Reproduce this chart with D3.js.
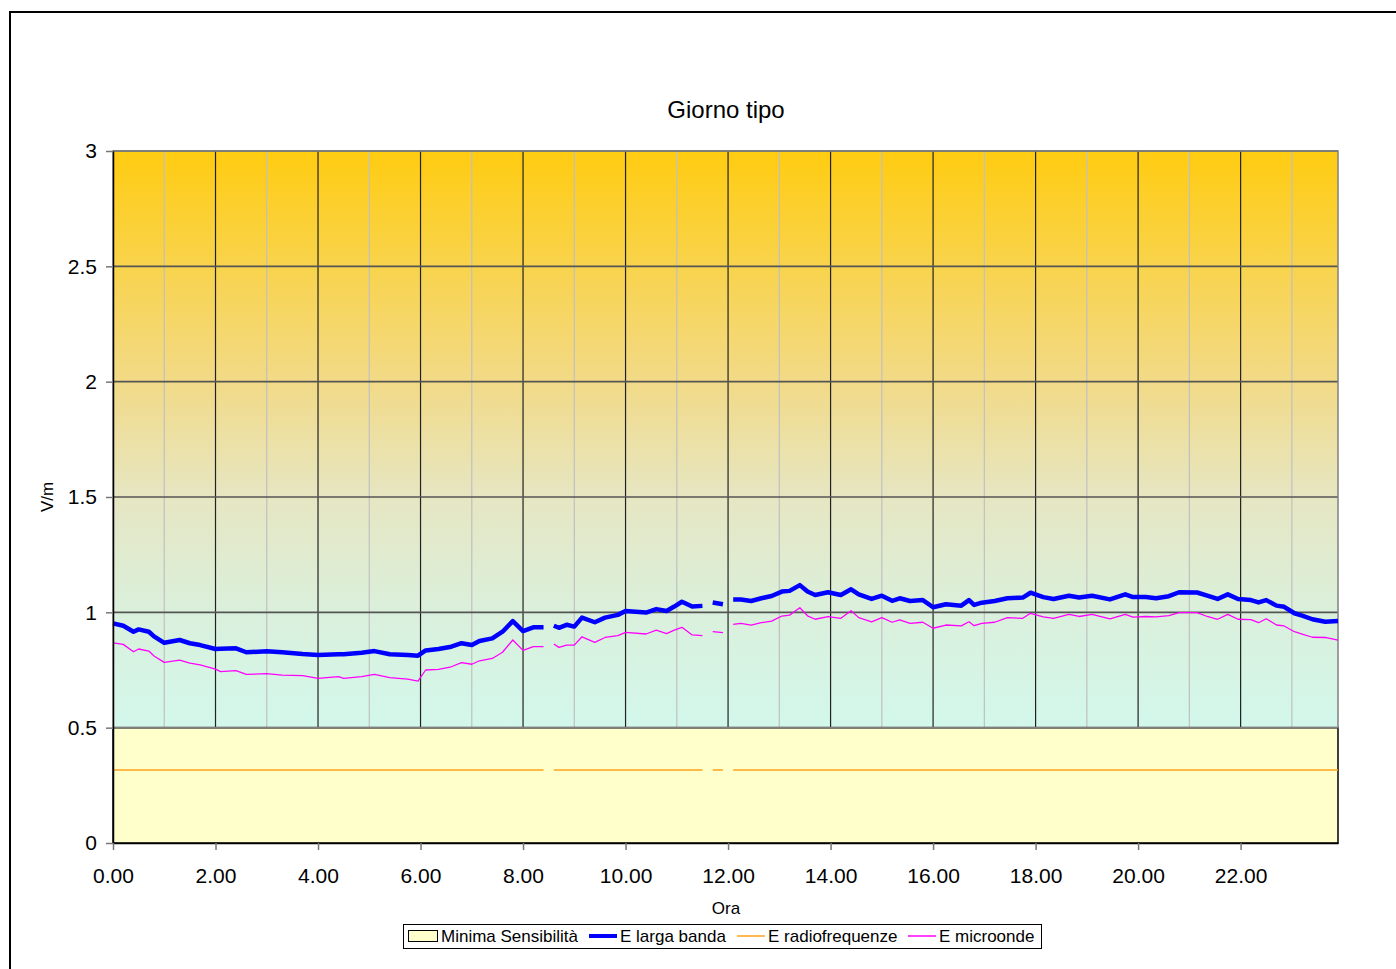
<!DOCTYPE html>
<html>
<head>
<meta charset="utf-8">
<script src="https://cdn.jsdelivr.net/npm/d3@7"></script>
<style>
  body { margin: 0; background: #fff; }
  svg { display: block; font-family: "Liberation Sans", Arial, sans-serif; }
</style>
</head>
<body>
<svg id="chart"></svg>
<script>
const width = 1396;
const height = 969;

// ore (null = dato mancante)
const hours = [0, 0.2, 0.4, 0.5, 0.7, 0.8, 1.0, 1.3, 1.5, 1.7, 2.0, 2.1, 2.4, 2.6, 3.0, 3.3, 3.7, 4.0,
  4.4, 4.5, 4.85, 5.1, 5.4, 5.75, 5.95, 6.1, 6.35, 6.6, 6.8, 7.0, 7.15, 7.4, 7.6, 7.8, 8.0, 8.2, 8.4,
  8.5, 8.6, 8.7, 8.85, 9.0, 9.15, 9.4, 9.6, 9.85, 10.0, 10.4, 10.6, 10.8, 10.95, 11.1, 11.3, 11.5,
  11.6, 11.7, 11.9, 12.0, 12.1, 12.25, 12.45, 12.65, 12.85, 13.05, 13.2, 13.4, 13.55, 13.7, 13.95,
  14.2, 14.4, 14.55, 14.8, 15.0, 15.2, 15.35, 15.55, 15.8, 16.0, 16.25, 16.55, 16.7, 16.8, 16.95,
  17.2, 17.45, 17.75, 17.9, 18.15, 18.35, 18.65, 18.85, 19.1, 19.45, 19.75, 19.9, 20.15, 20.35,
  20.6, 20.8, 21.15, 21.35, 21.55, 21.75, 21.95, 22.2, 22.35, 22.5, 22.7, 22.85, 23.05, 23.2, 23.4,
  23.65, 23.9];

const largaBanda = [0.952, 0.942, 0.916, 0.926, 0.916, 0.896, 0.868, 0.880, 0.866, 0.858, 0.841, 0.842,
  0.844, 0.827, 0.831, 0.827, 0.819, 0.815, 0.818, 0.818, 0.825, 0.832, 0.818, 0.815, 0.812, 0.835,
  0.841, 0.851, 0.866, 0.858, 0.876, 0.887, 0.916, 0.962, 0.919, 0.935, 0.935,
  null, 0.942, 0.933, 0.946, 0.938, 0.977, 0.957, 0.977, 0.989, 1.006, 0.999, 1.014, 1.006, 1.025,
  1.046, 1.025, 1.028, null, 1.043, 1.035, null, 1.056, 1.056, 1.049, 1.061, 1.071, 1.090, 1.093,
  1.118, 1.090, 1.075, 1.087, 1.075, 1.100, 1.078, 1.058, 1.072, 1.050, 1.061, 1.049, 1.053, 1.022,
  1.035, 1.029, 1.053, 1.032, 1.042, 1.049, 1.061, 1.064, 1.085, 1.066, 1.058, 1.072, 1.064, 1.072,
  1.056, 1.078, 1.066, 1.066, 1.061, 1.070, 1.087, 1.086, 1.072, 1.058, 1.078, 1.058, 1.053, 1.043,
  1.053, 1.029, 1.024, 0.996, 0.986, 0.970, 0.959, 0.962];

const microonde = [0.868, 0.861, 0.829, 0.841, 0.832, 0.811, 0.783, 0.793, 0.780, 0.772, 0.754, 0.743,
  0.747, 0.731, 0.734, 0.728, 0.726, 0.714, 0.721, 0.714, 0.721, 0.731, 0.717, 0.710, 0.702, 0.750,
  0.753, 0.764, 0.782, 0.775, 0.790, 0.800, 0.827, 0.880, 0.835, 0.851, 0.851,
  null, 0.863, 0.848, 0.858, 0.858, 0.894, 0.870, 0.891, 0.899, 0.913, 0.906, 0.923, 0.908, 0.923,
  0.935, 0.902, 0.899, null, 0.916, 0.912, null, 0.948, 0.952, 0.945, 0.955, 0.962, 0.984, 0.988,
  1.020, 0.985, 0.970, 0.981, 0.974, 1.007, 0.977, 0.959, 0.977, 0.957, 0.967, 0.952, 0.957, 0.931,
  0.945, 0.941, 0.959, 0.942, 0.952, 0.957, 0.977, 0.974, 0.996, 0.980, 0.974, 0.991, 0.982, 0.991,
  0.972, 0.991, 0.979, 0.982, 0.980, 0.986, 0.999, 0.999, 0.982, 0.970, 0.991, 0.970, 0.968, 0.955,
  0.972, 0.945, 0.941, 0.916, 0.906, 0.892, 0.891, 0.880];

const rfHours = [0, 8.4, 8.5, 8.6, 11.5, 11.6, 11.7, 11.9, 12.0, 12.1, 23.9];
const radiofrequenze = [0.316, 0.316, null, 0.316, 0.316, null, 0.316, 0.316, null, 0.316, 0.316];

const sensHours = [0, 23.9];
const minimaSensibilita = [0.5, 0.5];

const xTicks = [0, 2, 4, 6, 8, 10, 12, 14, 16, 18, 20, 22];
const xMinor = [1, 3, 5, 7, 9, 11, 13, 15, 17, 19, 21, 23];
const yTicks = [0, 0.5, 1, 1.5, 2, 2.5, 3];

const svg = d3.select("#chart").attr("width", width).attr("height", height);

// cornice esterna
svg.append("rect")
  .attr("x", 10).attr("y", 12)
  .attr("width", 1400).attr("height", 980)
  .attr("fill", "#fff").attr("stroke", "#000").attr("stroke-width", 2);

const x = d3.scaleLinear().domain([0, 23.9]).range([113, 1338]);
const y = d3.scaleLinear().domain([0, 3]).range([843, 151]);

// sfondo sfumato
const grad = svg.append("defs").append("linearGradient")
  .attr("id", "bg").attr("x1", 0).attr("y1", 0).attr("x2", 0).attr("y2", 1);
const stops = [[0, "#ffcc11"], [0.33, "#f2da86"], [0.5, "#e6e6c2"], [0.67, "#daf0dc"], [0.84, "#d2f8ec"], [1, "#ccfff6"]];
grad.selectAll("stop").data(stops).join("stop")
  .attr("offset", d => d[0]).attr("stop-color", d => d[1]);

svg.append("rect")
  .attr("x", x(0)).attr("y", y(3))
  .attr("width", x(23.9) - x(0)).attr("height", y(0) - y(3))
  .attr("fill", "url(#bg)");

// griglia
svg.append("g").selectAll("line").data(xMinor).join("line")
  .attr("x1", d => x(d)).attr("x2", d => x(d))
  .attr("y1", y(3)).attr("y2", y(0))
  .attr("stroke", "#c0c0c0").attr("stroke-width", 1.2);

svg.append("g").selectAll("line").data(xTicks.slice(1)).join("line")
  .attr("x1", d => x(d)).attr("x2", d => x(d))
  .attr("y1", y(3)).attr("y2", y(0))
  .attr("stroke", "#222").attr("stroke-width", 1.2);

svg.append("g").selectAll("line").data(yTicks.slice(1)).join("line")
  .attr("x1", x(0)).attr("x2", x(23.9))
  .attr("y1", d => y(d)).attr("y2", d => y(d))
  .attr("stroke", "#555").attr("stroke-width", 1.6);

// Minima Sensibilità (area)
const area = d3.area()
  .x((d, i) => x(sensHours[i]))
  .y0(y(0))
  .y1(d => y(d));
svg.append("path")
  .datum(minimaSensibilita)
  .attr("d", area)
  .attr("fill", "#ffffcc").attr("stroke", "#000").attr("stroke-width", 1.5);

// bordo area grafico
svg.append("rect")
  .attr("x", x(0)).attr("y", y(3))
  .attr("width", x(23.9) - x(0)).attr("height", y(0.5) - y(3))
  .attr("fill", "none").attr("stroke", "#808080").attr("stroke-width", 1.5);

// linee
function drawLine(xs, vals, color, w) {
  const line = d3.line()
    .defined(d => d != null)
    .x((d, i) => x(xs[i]))
    .y(d => y(d));
  svg.append("path")
    .datum(vals)
    .attr("d", line)
    .attr("fill", "none")
    .attr("stroke", color)
    .attr("stroke-width", w)
    .attr("stroke-linejoin", "round");
}
drawLine(rfHours, radiofrequenze, "#ffa31a", 1.5);
drawLine(hours, microonde, "#ff00ff", 1.3);
drawLine(hours, largaBanda, "#0000ff", 4.5);

// assi
const yAxis = svg.append("g")
  .attr("transform", `translate(${x(0)},0)`)
  .call(d3.axisLeft(y).tickValues(yTicks).tickSize(7).tickSizeOuter(0).tickPadding(9).tickFormat(d3.format("")));
const xAxis = svg.append("g")
  .attr("transform", `translate(0,${y(0)})`)
  .call(d3.axisBottom(x).tickValues(xTicks).tickSize(7).tickSizeOuter(0).tickPadding(18).tickFormat(d3.format(".2f")));

[yAxis, xAxis].forEach(g => {
  g.select(".domain").attr("stroke", "#000").attr("stroke-width", 1.5);
  g.selectAll(".tick line").attr("stroke", "#777").attr("stroke-width", 1.5);
  g.selectAll(".tick text").attr("fill", "#000").attr("font-size", 21)
    .attr("font-family", "Liberation Sans, Arial, sans-serif");
});

// titoli
svg.append("text")
  .attr("x", 726).attr("y", 118)
  .attr("text-anchor", "middle").attr("font-size", 24)
  .text("Giorno tipo");

svg.append("text")
  .attr("x", 726).attr("y", 914)
  .attr("text-anchor", "middle").attr("font-size", 17)
  .text("Ora");

svg.append("text")
  .attr("transform", "translate(53,497) rotate(-90)")
  .attr("text-anchor", "middle").attr("font-size", 17)
  .text("V/m");

// legenda
const legend = svg.append("g");
legend.append("rect")
  .attr("x", 403.5).attr("y", 924.5).attr("width", 638).attr("height", 24)
  .attr("fill", "#fff").attr("stroke", "#000").attr("stroke-width", 1);

const legendItems = [
  { label: "Minima Sensibilità", type: "box", color: "#ffffcc", x0: 408, tx: 441 },
  { label: "E larga banda", type: "line", color: "#0000ff", w: 4, x0: 589, tx: 620 },
  { label: "E radiofrequenze", type: "line", color: "#ffa31a", w: 1.5, x0: 737, tx: 768 },
  { label: "E microonde", type: "line", color: "#ff00ff", w: 1.5, x0: 908, tx: 939 }
];

legendItems.forEach(it => {
  if (it.type === "box") {
    legend.append("rect")
      .attr("x", it.x0 + 0.5).attr("y", 930.5).attr("width", 29).attr("height", 11)
      .attr("fill", it.color).attr("stroke", "#000").attr("stroke-width", 1);
  } else {
    legend.append("line")
      .attr("x1", it.x0).attr("x2", it.x0 + 28)
      .attr("y1", 936).attr("y2", 936)
      .attr("stroke", it.color).attr("stroke-width", it.w);
  }
  legend.append("text")
    .attr("x", it.tx).attr("y", 942)
    .attr("font-size", 17)
    .text(it.label);
});
</script>
</body>
</html>
